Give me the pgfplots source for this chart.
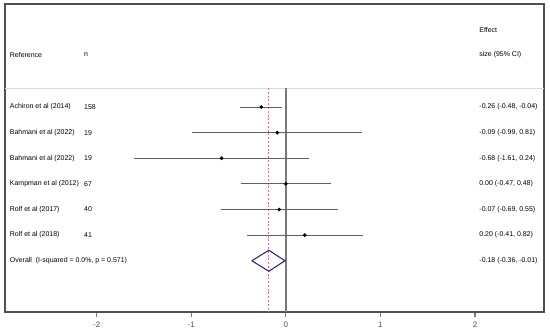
\documentclass[border=0pt]{standalone}
\usepackage{pgfplots}
\pgfplotsset{compat=1.18}
\usepackage{fontspec}
\setmainfont{Liberation Sans}
\definecolor{framegray}{HTML}{505050}
\definecolor{cigray}{HTML}{606060}
\definecolor{zerogray}{HTML}{7A7A7A}
\definecolor{refred}{HTML}{D07888}
\definecolor{diamondblue}{HTML}{1A1A80}
\begin{document}
\begin{tikzpicture}
\begin{axis}[
  scale only axis,
  width=539bp, height=308bp,
  xmin=-2.97, xmax=2.73,
  ymin=-3.02, ymax=9.0,
  y dir=reverse,
  axis line style={framegray, line width=1.6pt},
  xtick={-2,-1,0,1,2},
  xtick pos=bottom, xtick align=outside,
  major tick length=5bp,
  tick style={zerogray, line width=1.2pt},
  ytick=\empty,
  xticklabel style={font=\fontsize{8}{9}\selectfont, text=framegray, yshift=-1.5bp},
  /pgf/number format/assume math mode=true,
  clip=false,
]
% frame
\addplot[framegray, line width=1.6pt] coordinates {(-2.97,-3.02) (2.73,-3.02) (2.73,9.0) (-2.97,9.0) (-2.97,-3.02)};
% header separator
\addplot[black!15, line width=0.8pt] coordinates {(-2.97,0.26) (2.73,0.26)};
% zero line
\addplot[zerogray, line width=1.6pt] coordinates {(0,0.26) (0,9.0)};
% overall effect dashed line
\addplot[refred, line width=0.9pt, dash pattern=on 2pt off 1.8pt] coordinates {(-0.18,0.26) (-0.18,9.0)};
% confidence intervals
\addplot[cigray, line width=0.9pt] coordinates {(-0.48,1) (-0.04,1)};
\addplot[cigray, line width=0.9pt] coordinates {(-0.99,2) (0.81,2)};
\addplot[cigray, line width=0.9pt] coordinates {(-1.61,3) (0.24,3)};
\addplot[cigray, line width=0.9pt] coordinates {(-0.47,4) (0.48,4)};
\addplot[cigray, line width=0.9pt] coordinates {(-0.69,5) (0.55,5)};
\addplot[cigray, line width=0.9pt] coordinates {(-0.41,6) (0.82,6)};
% point estimates
\addplot[only marks, mark=*, mark size=1.7pt, black] coordinates {
(-0.26,1) (-0.09,2) (-0.68,3) (0.00,4) (-0.07,5) (0.20,6)};
% overall diamond
\addplot[diamondblue, line width=1pt] coordinates {(-0.36,7) (-0.18,6.59) (-0.01,7) (-0.18,7.41) (-0.36,7)};
% text
\begin{scope}[every node/.style={font=\fontsize{7}{8}\selectfont, text=black, inner sep=0pt}]
\node[anchor=west] at (axis cs:-2.92,-1.03) {Reference};
\node[anchor=west] at (axis cs:-2.135,-1.03) {n};
\node[anchor=west] at (axis cs:2.045,-2.0) {Effect};
\node[anchor=west] at (axis cs:2.045,-1.03) {size (95\% CI)};
\node[anchor=west] at (axis cs:-2.92,1) {Achiron et al (2014)};
\node[anchor=west] at (axis cs:-2.135,1) {158};
\node[anchor=west] at (axis cs:-2.92,2) {Bahmani et al (2022)};
\node[anchor=west] at (axis cs:-2.135,2) {19};
\node[anchor=west] at (axis cs:-2.92,3) {Bahmani et al (2022)};
\node[anchor=west] at (axis cs:-2.135,3) {19};
\node[anchor=west] at (axis cs:-2.92,4) {Kampman et al (2012)};
\node[anchor=west] at (axis cs:-2.135,4) {67};
\node[anchor=west] at (axis cs:-2.92,5) {Rolf et al (2017)};
\node[anchor=west] at (axis cs:-2.135,5) {40};
\node[anchor=west] at (axis cs:-2.92,6) {Rolf et al (2018)};
\node[anchor=west] at (axis cs:-2.135,6) {41};
\node[anchor=west] at (axis cs:-2.92,7) {Overall\ \ (I-squared = 0.0\%, p = 0.571)};
\node[anchor=west] at (axis cs:2.045,1) {-0.26 (-0.48, -0.04)};
\node[anchor=west] at (axis cs:2.045,2) {-0.09 (-0.99, 0.81)};
\node[anchor=west] at (axis cs:2.045,3) {-0.68 (-1.61, 0.24)};
\node[anchor=west] at (axis cs:2.045,4) {0.00 (-0.47, 0.48)};
\node[anchor=west] at (axis cs:2.045,5) {-0.07 (-0.69, 0.55)};
\node[anchor=west] at (axis cs:2.045,6) {0.20 (-0.41, 0.82)};
\node[anchor=west] at (axis cs:2.045,7) {-0.18 (-0.36, -0.01)};
\end{scope}
\end{axis}
\pgfresetboundingbox
\path ([shift={(-5bp,-19bp)}]current axis.south west) rectangle ([shift={(6bp,4bp)}]current axis.north east);
\end{tikzpicture}
\end{document}
